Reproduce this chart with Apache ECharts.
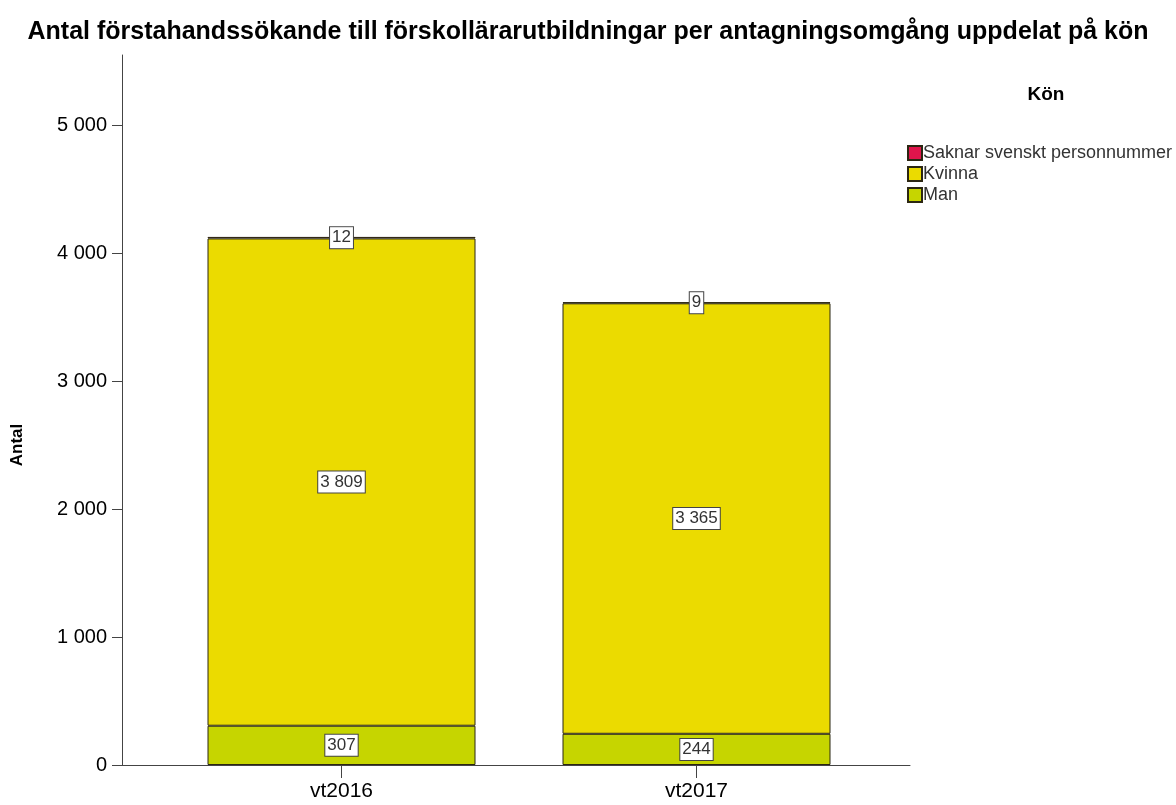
<!DOCTYPE html>
<html>
<head>
<meta charset="utf-8">
<script src="https://cdn.jsdelivr.net/npm/echarts@6/dist/echarts.min.js"></script>
<style>
  html, body { margin: 0; padding: 0; background: #fff; }
  #chart { width: 1176px; height: 805px; }
</style>
</head>
<body>
<div id="chart"></div>
<script>
// data
var categories = ['vt2016', 'vt2017'];
var manValues = [307, 244];
var kvinnaValues = [3809, 3365];
var saknarValues = [12, 9];
var yTicks = [0, 1000, 2000, 3000, 4000, 5000];

var yMax = 5550;

function fmt(v) {
  return String(v).replace(/\B(?=(\d{3})+(?!\d))/g, ' ');
}

var chart = echarts.init(document.getElementById('chart'));

var labelBox = {
  show: true,
  position: 'inside',
  color: '#333',
  fontFamily: 'Liberation Sans',
  fontSize: 17,
  backgroundColor: '#fff',
  borderColor: '#444',
  borderWidth: 1,
  padding: [3, 2, 1, 2],
  formatter: function (p) { return fmt(p.value); }
};

function barSeries(name, arr, color) {
  return {
    name: name,
    type: 'bar',
    stack: 'total',
    xAxisIndex: 0,
    yAxisIndex: 0,
    barWidth: 268,
    data: arr,
    itemStyle: { color: color, borderColor: '#2b2612', borderWidth: 1 },
    label: labelBox
  };
}

var option = {
  backgroundColor: '#fff',
  animation: false,
  title: [
    {
      text: 'Antal förstahandssökande till förskollärarutbildningar per antagningsomgång uppdelat på kön',
      left: 'center',
      top: 15,
      textStyle: { fontFamily: 'Liberation Sans', fontSize: 25, fontWeight: 'bold', color: '#000' }
    },
    {
      text: 'Kön',
      left: 1041,
      top: 80,
      textAlign: 'center',
      textStyle: { fontFamily: 'Liberation Sans', fontSize: 19, fontWeight: 'bold', color: '#000' }
    }
  ],
  legend: {
    orient: 'vertical',
    left: 902,
    top: 139,
    itemWidth: 14,
    itemHeight: 14,
    itemGap: 3,
    icon: 'rect',
    data: ['Saknar svenskt personnummer', 'Kvinna', 'Man'],
    textStyle: { fontFamily: 'Liberation Sans', fontSize: 18, lineHeight: 18, color: '#333', padding: [0, 0, 0, -4] }
  },
  grid: [
    // bar area (category bands)
    { left: 164, right: 302, top: 55, bottom: 40 },
    // full axis frame
    { left: 122, right: 266, top: 55, bottom: 40 }
  ],
  xAxis: [
    {
      type: 'category',
      gridIndex: 0,
      data: categories,
      axisLine: { show: false },
      axisTick: { show: true, alignWithLabel: true, length: 13, lineStyle: { color: '#444' } },
      axisLabel: { fontFamily: 'Liberation Sans', fontSize: 21, color: '#000', margin: 16 }
    },
    {
      type: 'value',
      gridIndex: 1,
      min: 0,
      max: 1,
      splitLine: { show: false },
      axisLine: { show: true, onZero: false, lineStyle: { color: '#444' } },
      axisTick: { show: false },
      axisLabel: { show: false }
    }
  ],
  yAxis: [
    {
      type: 'value',
      gridIndex: 0,
      min: 0,
      max: yMax,
      show: false
    },
    {
      type: 'value',
      gridIndex: 1,
      min: 0,
      max: yMax,
      name: 'Antal',
      nameLocation: 'middle',
      nameGap: 96,
      nameTextStyle: { fontFamily: 'Liberation Sans', fontSize: 17, fontWeight: 'bold', color: '#000', padding: [0, 70, 0, 0] },
      splitLine: { show: false },
      axisLine: { show: true, onZero: false, lineStyle: { color: '#444' } },
      axisTick: { show: true, length: 10, customValues: yTicks, lineStyle: { color: '#444' } },
      axisLabel: {
        customValues: yTicks,
        formatter: function (v) { return fmt(v); },
        fontFamily: 'Liberation Sans', fontSize: 20, color: '#000', margin: 15
      }
    }
  ],
  series: [
    barSeries('Man', manValues, '#c6d500'),
    barSeries('Kvinna', kvinnaValues, '#ebdb00'),
    barSeries('Saknar svenskt personnummer', saknarValues, '#e0154c')
  ]
};

chart.setOption(option);
</script>
</body>
</html>
